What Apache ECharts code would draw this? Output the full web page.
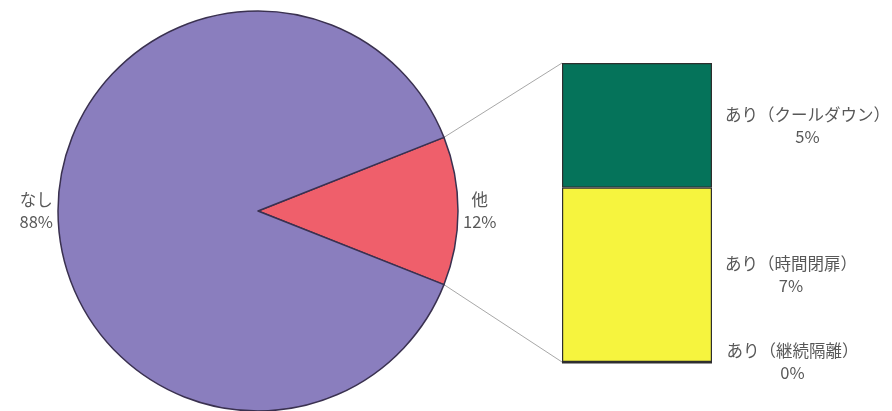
<!DOCTYPE html>
<html>
<head>
<meta charset="utf-8">
<script src="https://cdn.jsdelivr.net/npm/echarts@6/dist/echarts.min.js"></script>
<style>
  html, body { margin: 0; padding: 0; background: #fff; }
  #chart { width: 892px; height: 411px; }
</style>
</head>
<body>
<div id="chart"></div>
<script>
// Pie: overall share; the "他" slice is broken down in the stacked bar
const pieNames = ['他', 'なし'];
const pieValues = [12, 88];
// Breakdown of "他", bottom to top
const barNames = ['あり（継続隔離）', 'あり（時間閉扉）', 'あり（クールダウン）'];
const barValues = [0, 7, 5];

const pieColors = ['#ef5f6b', '#8a7ebe'];
const barColors = ['#f6f43e', '#f6f43e', '#05735a'];

const PIE_CENTER = [258, 211];
const PIE_RADIUS = 200;
const barTotal = barValues.reduce((a, b) => a + b, 0);
const otherShare = pieValues[0] / pieValues.reduce((a, b) => a + b, 0);
// center the "他" slice on the 3 o'clock direction
const START_ANGLE = otherShare * 360 / 2;
const GRID = { left: 562, top: 63, width: 150, height: 299 };

const labelRich = {
  n: { fontSize: 16.5, lineHeight: 22, align: 'center', color: '#585858',
       fontFamily: 'Noto Sans CJK JP' }
};

const chart = echarts.init(document.getElementById('chart'));

const option = {
  animation: false,
  backgroundColor: '#fff',
  textStyle: { fontFamily: 'Noto Sans CJK JP' },
  grid: GRID,
  xAxis: { type: 'category', data: [''], show: false },
  yAxis: { type: 'value', min: 0, max: barTotal, show: false },
  series: [
    {
      type: 'pie',
      center: PIE_CENTER,
      radius: PIE_RADIUS,
      startAngle: START_ANGLE,
      clockwise: true,
      avoidLabelOverlap: false,
      itemStyle: { borderColor: '#3a3150', borderWidth: 1.5 },
      label: {
        position: 'outside',
        distanceToLabelLine: 5,
        formatter: p => `{n|${p.name}}\n{n|${p.value}%}`,
        rich: labelRich
      },
      labelLine: { show: false, length: 0, length2: 0 },
      data: pieNames.map((n, i) => ({
        name: n, value: pieValues[i], itemStyle: { color: pieColors[i] }
      }))
    },
    ...barNames.map((n, i) => ({
      type: 'bar',
      name: n,
      stack: 'other',
      barWidth: '100%',
      data: [barValues[i]],
      itemStyle: {
        color: barColors[i],
        borderColor: '#2e2e2e',
        borderWidth: i === 0 ? 3 : 1.2
      },
      label: {
        show: true,
        position: 'right',
        distance: 13,
        formatter: p => `{n|${p.seriesName}}\n{n|${p.value}%}`,
        rich: labelRich
      }
    }))
  ]
};

chart.setOption(option);

// Connector lines from the "他" slice edges to the bar's left corners
const deg = Math.PI / 180;
const a0 = START_ANGLE * deg;
const a1 = (START_ANGLE - otherShare * 360) * deg;
const p0 = [PIE_CENTER[0] + PIE_RADIUS * Math.cos(a0), PIE_CENTER[1] - PIE_RADIUS * Math.sin(a0)];
const p1 = [PIE_CENTER[0] + PIE_RADIUS * Math.cos(a1), PIE_CENTER[1] - PIE_RADIUS * Math.sin(a1)];
const barTopY = chart.convertToPixel({ yAxisIndex: 0 }, barTotal);
const barBottomY = chart.convertToPixel({ yAxisIndex: 0 }, 0);
const barLeftX = GRID.left;

chart.setOption({
  graphic: [
    { type: 'line', z: -1, shape: { x1: p0[0], y1: p0[1], x2: barLeftX, y2: barTopY },
      style: { stroke: '#a8a8a8', lineWidth: 1 } },
    { type: 'line', z: -1, shape: { x1: p1[0], y1: p1[1], x2: barLeftX, y2: barBottomY },
      style: { stroke: '#a8a8a8', lineWidth: 1 } }
  ]
});
</script>
</body>
</html>
